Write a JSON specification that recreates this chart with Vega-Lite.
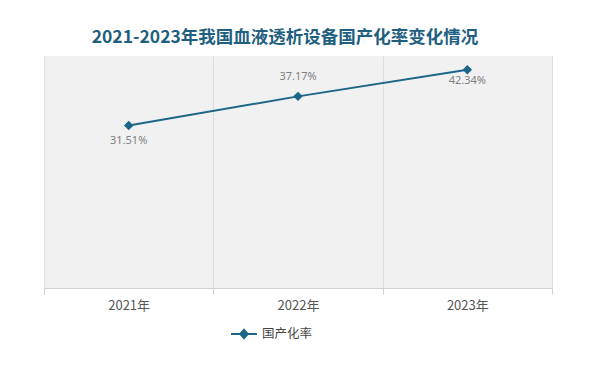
{
  "$schema": "https://vega.github.io/schema/vega-lite/v6.json",
  "autosize": "none",
  "width": 508,
  "height": 232,
  "padding": {"left": 44, "top": 56, "right": 42, "bottom": 78},
  "background": "#ffffff",
  "title": {
    "text": "2021-2023年我国血液透析设备国产化率变化情况",
    "font": "Noto Sans CJK SC",
    "fontSize": 17.5,
    "fontWeight": "bold",
    "color": "#1f5f80",
    "anchor": "middle",
    "dx": -13,
    "offset": 10
  },
  "data": {
    "values": [
      {"year": "2021年", "rate": 31.51, "label": "31.51%", "pos": "below", "series": "国产化率"},
      {"year": "2022年", "rate": 37.17, "label": "37.17%", "pos": "above", "series": "国产化率"},
      {"year": "2023年", "rate": 42.34, "label": "42.34%", "pos": "near", "series": "国产化率"}
    ]
  },
  "encoding": {
    "x": {
      "field": "year",
      "type": "nominal",
      "sort": null,
      "scale": {"paddingInner": 0, "paddingOuter": 0},
      "axis": {
        "title": null,
        "labelAngle": 0,
        "tickBand": "extent",
        "domainColor": "#d0d0d0",
        "tickColor": "#d0d0d0",
        "tickSize": 6,
        "grid": true,
        "gridColor": "#dddddd",
        "labelColor": "#555555",
        "labelFontSize": 13,
        "labelFont": "Noto Sans CJK SC",
        "labelPadding": 5
      }
    },
    "y": {
      "field": "rate",
      "type": "quantitative",
      "scale": {"domain": [0, 45]},
      "axis": null
    }
  },
  "layer": [
    {
      "mark": {"type": "line", "strokeWidth": 2},
      "encoding": {
        "color": {
          "field": "series",
          "type": "nominal",
          "scale": {"range": ["#1b6789"]},
          "legend": {
            "title": null,
            "orient": "none",
            "legendX": 186,
            "legendY": 264,
            "symbolType": "M-1,0H1M0,-0.32L0.28,0L0,0.32L-0.28,0Z",
            "symbolSize": 676,
            "symbolStrokeWidth": 2,
            "symbolFillColor": "#1b6789",
            "symbolStrokeColor": "#1b6789",
            "labelFont": "Noto Sans CJK SC",
            "labelFontSize": 12.5,
            "labelColor": "#444444",
            "labelOffset": 4
          }
        }
      }
    },
    {
      "mark": {"type": "point", "shape": "diamond", "filled": true, "size": 90, "opacity": 1, "color": "#1b6789"}
    },
    {
      "transform": [{"filter": "datum.pos == 'below'"}],
      "mark": {"type": "text", "dy": 15, "fontSize": 11, "color": "#808080", "font": "Noto Sans"},
      "encoding": {"text": {"field": "label"}}
    },
    {
      "transform": [{"filter": "datum.pos == 'near'"}],
      "mark": {"type": "text", "dy": 11, "fontSize": 11, "color": "#808080", "font": "Noto Sans"},
      "encoding": {"text": {"field": "label"}}
    },
    {
      "transform": [{"filter": "datum.pos == 'above'"}],
      "mark": {"type": "text", "dy": -19, "fontSize": 11, "color": "#808080", "font": "Noto Sans"},
      "encoding": {"text": {"field": "label"}}
    }
  ],
  "config": {
    "view": {"fill": "#f1f1f1", "stroke": null}
  }
}
